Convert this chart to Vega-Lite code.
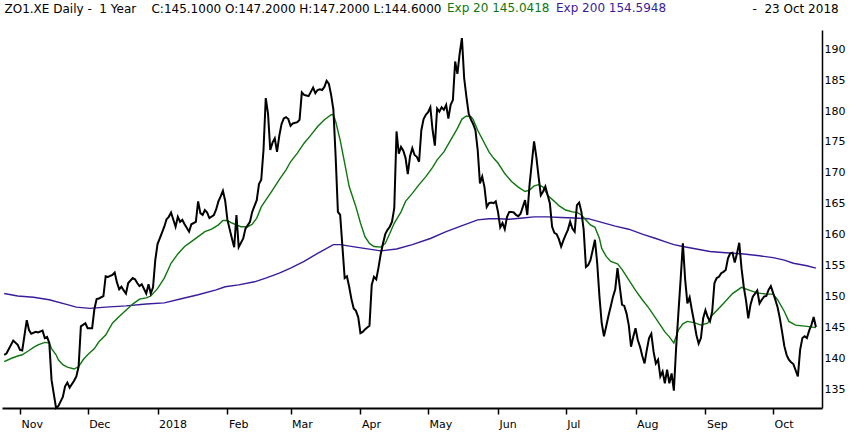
{
  "$schema": "https://vega.github.io/schema/vega-lite/v6.json",
  "width": 820,
  "height": 378,
  "autosize": {"type": "none"},
  "padding": {"left": 2, "top": 30, "right": 28, "bottom": 27},
  "background": "white",
  "config": {"view": {"stroke": null}, "font": "DejaVu Sans"},
  "datasets": {
    "price": [
      {"d":"2017-10-25","v":140.6},{"d":"2017-10-26","v":140.8},{"d":"2017-10-29","v":142.9},{"d":"2017-10-31","v":142.2},
      {"d":"2017-11-01","v":141.4},{"d":"2017-11-02","v":141.3},{"d":"2017-11-04","v":146.2},{"d":"2017-11-05","v":144.6},
      {"d":"2017-11-06","v":144.0},{"d":"2017-11-08","v":144.3},{"d":"2017-11-09","v":144.2},{"d":"2017-11-11","v":144.5},
      {"d":"2017-11-12","v":143.3},{"d":"2017-11-13","v":143.5},{"d":"2017-11-14","v":142.5},{"d":"2017-11-15","v":136.5},
      {"d":"2017-11-17","v":132.0},{"d":"2017-11-18","v":132.3},{"d":"2017-11-20","v":133.8},{"d":"2017-11-21","v":135.5},
      {"d":"2017-11-22","v":136.1},{"d":"2017-11-23","v":135.3},{"d":"2017-11-25","v":136.4},{"d":"2017-11-26","v":137.1},
      {"d":"2017-11-27","v":138.7},{"d":"2017-11-28","v":145.2},{"d":"2017-11-30","v":145.7},{"d":"2017-12-01","v":144.9},
      {"d":"2017-12-03","v":144.9},{"d":"2017-12-04","v":148.0},{"d":"2017-12-05","v":149.6},{"d":"2017-12-06","v":149.7},
      {"d":"2017-12-08","v":150.1},{"d":"2017-12-09","v":153.3},{"d":"2017-12-10","v":153.2},{"d":"2017-12-12","v":153.5},
      {"d":"2017-12-13","v":153.9},{"d":"2017-12-14","v":152.3},{"d":"2017-12-15","v":151.2},{"d":"2017-12-16","v":151.6},
      {"d":"2017-12-17","v":151.0},{"d":"2017-12-18","v":150.5},{"d":"2017-12-19","v":152.2},{"d":"2017-12-21","v":153.0},
      {"d":"2017-12-22","v":152.8},{"d":"2017-12-23","v":152.2},{"d":"2017-12-24","v":151.7},{"d":"2017-12-25","v":152.0},
      {"d":"2017-12-27","v":150.5},{"d":"2017-12-28","v":152.0},{"d":"2017-12-29","v":150.5},{"d":"2017-12-30","v":151.5},
      {"d":"2017-12-31","v":155.9},{"d":"2018-01-01","v":158.5},{"d":"2018-01-02","v":159.4},{"d":"2018-01-04","v":161.3},
      {"d":"2018-01-05","v":162.5},{"d":"2018-01-06","v":162.9},{"d":"2018-01-07","v":163.6},{"d":"2018-01-09","v":161.3},
      {"d":"2018-01-10","v":162.9},{"d":"2018-01-11","v":162.1},{"d":"2018-01-12","v":162.4},{"d":"2018-01-13","v":161.7},
      {"d":"2018-01-15","v":160.5},{"d":"2018-01-16","v":161.7},{"d":"2018-01-18","v":162.1},{"d":"2018-01-19","v":165.4},
      {"d":"2018-01-20","v":163.5},{"d":"2018-01-21","v":163.2},{"d":"2018-01-22","v":164.0},{"d":"2018-01-23","v":163.6},
      {"d":"2018-01-24","v":162.7},{"d":"2018-01-26","v":163.2},{"d":"2018-01-27","v":164.1},{"d":"2018-01-28","v":165.4},
      {"d":"2018-01-29","v":166.2},{"d":"2018-01-30","v":167.1},{"d":"2018-01-31","v":165.5},{"d":"2018-02-01","v":162.4},
      {"d":"2018-02-03","v":159.4},{"d":"2018-02-04","v":158.0},{"d":"2018-02-05","v":163.2},{"d":"2018-02-06","v":158.0},
      {"d":"2018-02-08","v":159.4},{"d":"2018-02-09","v":161.0},{"d":"2018-02-11","v":162.1},{"d":"2018-02-12","v":163.7},
      {"d":"2018-02-14","v":165.6},{"d":"2018-02-15","v":168.2},{"d":"2018-02-16","v":168.9},{"d":"2018-02-17","v":173.7},
      {"d":"2018-02-18","v":182.1},{"d":"2018-02-19","v":179.6},{"d":"2018-02-20","v":173.7},{"d":"2018-02-21","v":174.9},
      {"d":"2018-02-22","v":175.6},{"d":"2018-02-23","v":173.4},{"d":"2018-02-24","v":176.0},{"d":"2018-02-25","v":177.9},
      {"d":"2018-02-26","v":178.8},{"d":"2018-02-27","v":179.0},{"d":"2018-02-28","v":178.7},{"d":"2018-03-01","v":177.6},
      {"d":"2018-03-02","v":178.0},{"d":"2018-03-04","v":178.2},{"d":"2018-03-05","v":178.6},{"d":"2018-03-06","v":183.0},
      {"d":"2018-03-07","v":182.6},{"d":"2018-03-08","v":182.5},{"d":"2018-03-09","v":182.4},{"d":"2018-03-10","v":183.1},
      {"d":"2018-03-11","v":183.8},{"d":"2018-03-12","v":182.9},{"d":"2018-03-13","v":183.4},{"d":"2018-03-14","v":183.5},
      {"d":"2018-03-15","v":183.4},{"d":"2018-03-16","v":183.9},{"d":"2018-03-17","v":184.9},{"d":"2018-03-18","v":184.4},
      {"d":"2018-03-19","v":182.6},{"d":"2018-03-20","v":180.2},{"d":"2018-03-21","v":172.6},{"d":"2018-03-22","v":163.7},
      {"d":"2018-03-23","v":163.2},{"d":"2018-03-24","v":158.1},{"d":"2018-03-25","v":153.0},{"d":"2018-03-26","v":153.3},
      {"d":"2018-03-27","v":151.6},{"d":"2018-03-28","v":149.6},{"d":"2018-03-29","v":148.1},{"d":"2018-03-30","v":147.7},
      {"d":"2018-03-31","v":146.7},{"d":"2018-04-01","v":144.1},{"d":"2018-04-02","v":144.3},{"d":"2018-04-03","v":144.7},
      {"d":"2018-04-04","v":145.0},{"d":"2018-04-05","v":145.3},{"d":"2018-04-06","v":151.9},{"d":"2018-04-07","v":153.2},
      {"d":"2018-04-08","v":152.8},{"d":"2018-04-09","v":154.7},{"d":"2018-04-10","v":156.9},{"d":"2018-04-11","v":158.6},
      {"d":"2018-04-12","v":160.1},{"d":"2018-04-13","v":160.8},{"d":"2018-04-14","v":161.3},{"d":"2018-04-15","v":162.1},
      {"d":"2018-04-16","v":164.3},{"d":"2018-04-17","v":176.7},{"d":"2018-04-18","v":173.1},{"d":"2018-04-19","v":174.2},
      {"d":"2018-04-20","v":173.6},{"d":"2018-04-21","v":172.4},{"d":"2018-04-22","v":169.8},{"d":"2018-04-23","v":172.7},
      {"d":"2018-04-24","v":174.0},{"d":"2018-04-25","v":172.9},{"d":"2018-04-26","v":172.6},{"d":"2018-04-27","v":171.8},
      {"d":"2018-04-28","v":176.9},{"d":"2018-04-29","v":178.7},{"d":"2018-04-30","v":179.4},{"d":"2018-05-01","v":179.8},
      {"d":"2018-05-02","v":180.6},{"d":"2018-05-03","v":176.9},{"d":"2018-05-04","v":174.4},{"d":"2018-05-05","v":180.4},
      {"d":"2018-05-06","v":179.9},{"d":"2018-05-07","v":180.6},{"d":"2018-05-08","v":180.2},{"d":"2018-05-09","v":181.0},
      {"d":"2018-05-10","v":178.8},{"d":"2018-05-11","v":181.0},{"d":"2018-05-12","v":181.8},{"d":"2018-05-13","v":188.0},
      {"d":"2018-05-14","v":186.0},{"d":"2018-05-15","v":189.3},{"d":"2018-05-16","v":191.8},{"d":"2018-05-17","v":185.3},
      {"d":"2018-05-18","v":182.3},{"d":"2018-05-19","v":179.6},{"d":"2018-05-20","v":178.6},{"d":"2018-05-21","v":177.9},
      {"d":"2018-05-22","v":176.9},{"d":"2018-05-23","v":173.7},{"d":"2018-05-24","v":168.3},{"d":"2018-05-25","v":169.4},
      {"d":"2018-05-26","v":167.7},{"d":"2018-05-27","v":164.5},{"d":"2018-05-28","v":165.1},{"d":"2018-05-29","v":165.2},
      {"d":"2018-05-30","v":165.1},{"d":"2018-05-31","v":165.4},{"d":"2018-06-01","v":163.7},{"d":"2018-06-02","v":161.2},
      {"d":"2018-06-03","v":161.9},{"d":"2018-06-04","v":160.9},{"d":"2018-06-05","v":162.9},{"d":"2018-06-06","v":163.7},
      {"d":"2018-06-07","v":163.7},{"d":"2018-06-08","v":163.6},{"d":"2018-06-09","v":163.2},{"d":"2018-06-10","v":163.0},
      {"d":"2018-06-11","v":163.4},{"d":"2018-06-13","v":165.6},{"d":"2018-06-14","v":163.2},{"d":"2018-06-15","v":168.1},
      {"d":"2018-06-16","v":171.6},{"d":"2018-06-17","v":175.1},{"d":"2018-06-18","v":172.6},{"d":"2018-06-19","v":169.4},
      {"d":"2018-06-20","v":166.4},{"d":"2018-06-21","v":167.0},{"d":"2018-06-22","v":167.8},{"d":"2018-06-24","v":165.1},
      {"d":"2018-06-25","v":161.3},{"d":"2018-06-26","v":160.3},{"d":"2018-06-27","v":160.1},{"d":"2018-06-28","v":159.3},
      {"d":"2018-06-29","v":158.1},{"d":"2018-06-30","v":159.1},{"d":"2018-07-01","v":160.0},{"d":"2018-07-02","v":160.8},
      {"d":"2018-07-03","v":162.1},{"d":"2018-07-04","v":161.0},{"d":"2018-07-05","v":160.5},{"d":"2018-07-06","v":164.8},
      {"d":"2018-07-07","v":165.2},{"d":"2018-07-08","v":163.7},{"d":"2018-07-09","v":160.8},{"d":"2018-07-10","v":154.8},
      {"d":"2018-07-11","v":155.1},{"d":"2018-07-12","v":155.9},{"d":"2018-07-13","v":157.5},{"d":"2018-07-14","v":159.2},
      {"d":"2018-07-15","v":155.4},{"d":"2018-07-16","v":150.0},{"d":"2018-07-17","v":145.7},{"d":"2018-07-18","v":143.6},
      {"d":"2018-07-19","v":145.2},{"d":"2018-07-20","v":146.9},{"d":"2018-07-21","v":148.4},{"d":"2018-07-22","v":150.0},
      {"d":"2018-07-23","v":151.2},{"d":"2018-07-24","v":154.6},{"d":"2018-07-25","v":151.6},{"d":"2018-07-26","v":148.7},
      {"d":"2018-07-27","v":148.5},{"d":"2018-07-28","v":147.3},{"d":"2018-07-29","v":145.4},{"d":"2018-07-30","v":141.9},
      {"d":"2018-07-31","v":143.5},{"d":"2018-08-01","v":144.9},{"d":"2018-08-02","v":143.0},{"d":"2018-08-03","v":141.9},
      {"d":"2018-08-04","v":140.4},{"d":"2018-08-05","v":139.2},{"d":"2018-08-06","v":141.4},{"d":"2018-08-07","v":143.3},
      {"d":"2018-08-08","v":144.0},{"d":"2018-08-09","v":141.1},{"d":"2018-08-10","v":139.2},{"d":"2018-08-11","v":139.8},
      {"d":"2018-08-12","v":137.1},{"d":"2018-08-13","v":137.9},{"d":"2018-08-14","v":136.0},{"d":"2018-08-15","v":138.2},
      {"d":"2018-08-16","v":136.0},{"d":"2018-08-17","v":137.6},{"d":"2018-08-18","v":134.8},{"d":"2018-08-19","v":141.7},
      {"d":"2018-08-20","v":147.3},{"d":"2018-08-21","v":152.8},{"d":"2018-08-22","v":158.6},{"d":"2018-08-23","v":152.8},
      {"d":"2018-08-24","v":148.9},{"d":"2018-08-25","v":149.9},{"d":"2018-08-26","v":147.8},{"d":"2018-08-27","v":145.9},
      {"d":"2018-08-28","v":143.8},{"d":"2018-08-29","v":142.4},{"d":"2018-08-30","v":143.3},{"d":"2018-08-31","v":146.5},
      {"d":"2018-09-01","v":147.8},{"d":"2018-09-02","v":146.7},{"d":"2018-09-03","v":146.0},{"d":"2018-09-04","v":147.6},
      {"d":"2018-09-05","v":152.2},{"d":"2018-09-06","v":153.0},{"d":"2018-09-07","v":153.2},{"d":"2018-09-08","v":153.8},
      {"d":"2018-09-09","v":154.0},{"d":"2018-09-10","v":154.3},{"d":"2018-09-11","v":156.2},{"d":"2018-09-12","v":157.0},
      {"d":"2018-09-13","v":157.1},{"d":"2018-09-14","v":155.5},{"d":"2018-09-15","v":157.0},{"d":"2018-09-16","v":158.7},
      {"d":"2018-09-17","v":154.6},{"d":"2018-09-18","v":151.6},{"d":"2018-09-19","v":149.4},{"d":"2018-09-20","v":146.5},
      {"d":"2018-09-21","v":148.7},{"d":"2018-09-22","v":150.0},{"d":"2018-09-23","v":150.5},{"d":"2018-09-24","v":151.0},
      {"d":"2018-09-25","v":148.9},{"d":"2018-09-26","v":149.5},{"d":"2018-09-27","v":150.0},{"d":"2018-09-28","v":150.1},
      {"d":"2018-09-29","v":151.1},{"d":"2018-09-30","v":151.7},{"d":"2018-10-01","v":150.6},{"d":"2018-10-02","v":149.5},
      {"d":"2018-10-03","v":148.3},{"d":"2018-10-04","v":146.5},{"d":"2018-10-05","v":144.3},{"d":"2018-10-06","v":142.0},
      {"d":"2018-10-07","v":140.6},{"d":"2018-10-08","v":139.8},{"d":"2018-10-09","v":139.4},{"d":"2018-10-10","v":139.1},
      {"d":"2018-10-11","v":138.1},{"d":"2018-10-12","v":137.1},{"d":"2018-10-13","v":141.4},{"d":"2018-10-14","v":143.3},
      {"d":"2018-10-15","v":143.6},{"d":"2018-10-16","v":143.3},{"d":"2018-10-17","v":144.5},{"d":"2018-10-18","v":145.4},
      {"d":"2018-10-19","v":146.7},{"d":"2018-10-20","v":145.1}
    ],
    "ema20": [
      {"d":"2017-10-25","v":139.5},{"d":"2017-10-28","v":140.0},{"d":"2017-10-31","v":140.4},{"d":"2017-11-02","v":140.6},
      {"d":"2017-11-05","v":141.3},{"d":"2017-11-07","v":141.8},{"d":"2017-11-09","v":142.2},{"d":"2017-11-12","v":142.6},
      {"d":"2017-11-14","v":142.5},{"d":"2017-11-15","v":141.6},{"d":"2017-11-17","v":140.6},{"d":"2017-11-18","v":139.8},
      {"d":"2017-11-20","v":139.0},{"d":"2017-11-22","v":138.6},{"d":"2017-11-25","v":138.3},{"d":"2017-11-27","v":138.7},
      {"d":"2017-11-29","v":139.8},{"d":"2017-12-01","v":140.6},{"d":"2017-12-04","v":141.6},{"d":"2017-12-06","v":142.7},
      {"d":"2017-12-09","v":143.8},{"d":"2017-12-12","v":145.7},{"d":"2017-12-15","v":146.8},{"d":"2017-12-18","v":147.8},
      {"d":"2017-12-21","v":148.8},{"d":"2017-12-24","v":149.6},{"d":"2017-12-27","v":149.8},{"d":"2017-12-29","v":150.1},
      {"d":"2018-01-01","v":151.3},{"d":"2018-01-04","v":153.0},{"d":"2018-01-06","v":154.6},{"d":"2018-01-07","v":155.4},
      {"d":"2018-01-10","v":156.9},{"d":"2018-01-13","v":158.1},{"d":"2018-01-16","v":158.9},{"d":"2018-01-19","v":159.7},
      {"d":"2018-01-22","v":160.5},{"d":"2018-01-25","v":160.9},{"d":"2018-01-28","v":161.6},{"d":"2018-01-30","v":162.3},
      {"d":"2018-02-01","v":162.3},{"d":"2018-02-03","v":161.9},{"d":"2018-02-05","v":161.6},{"d":"2018-02-07","v":161.3},
      {"d":"2018-02-10","v":161.3},{"d":"2018-02-12","v":161.7},{"d":"2018-02-14","v":162.7},{"d":"2018-02-16","v":164.5},
      {"d":"2018-02-18","v":165.6},{"d":"2018-02-21","v":167.2},{"d":"2018-02-24","v":168.9},{"d":"2018-02-27","v":170.5},
      {"d":"2018-03-01","v":171.8},{"d":"2018-03-04","v":173.2},{"d":"2018-03-07","v":174.8},{"d":"2018-03-10","v":176.1},
      {"d":"2018-03-13","v":177.5},{"d":"2018-03-16","v":178.6},{"d":"2018-03-19","v":179.4},{"d":"2018-03-20","v":179.4},
      {"d":"2018-03-21","v":178.3},{"d":"2018-03-23","v":175.3},{"d":"2018-03-25","v":171.6},{"d":"2018-03-27","v":167.8},
      {"d":"2018-03-30","v":164.5},{"d":"2018-04-01","v":161.9},{"d":"2018-04-03","v":159.7},{"d":"2018-04-05","v":158.6},
      {"d":"2018-04-07","v":158.1},{"d":"2018-04-10","v":158.0},{"d":"2018-04-12","v":158.6},{"d":"2018-04-14","v":160.2},
      {"d":"2018-04-16","v":161.9},{"d":"2018-04-19","v":163.7},{"d":"2018-04-21","v":165.4},{"d":"2018-04-24","v":166.7},
      {"d":"2018-04-27","v":168.1},{"d":"2018-04-30","v":169.4},{"d":"2018-05-03","v":170.9},{"d":"2018-05-05","v":172.1},
      {"d":"2018-05-08","v":173.4},{"d":"2018-05-11","v":175.3},{"d":"2018-05-14","v":177.2},{"d":"2018-05-16","v":178.7},
      {"d":"2018-05-18","v":179.2},{"d":"2018-05-20","v":179.1},{"d":"2018-05-21","v":178.6},{"d":"2018-05-23","v":176.9},
      {"d":"2018-05-26","v":174.8},{"d":"2018-05-28","v":173.4},{"d":"2018-05-30","v":172.4},{"d":"2018-06-01","v":171.6},
      {"d":"2018-06-04","v":169.9},{"d":"2018-06-07","v":168.6},{"d":"2018-06-10","v":167.7},{"d":"2018-06-13","v":167.0},
      {"d":"2018-06-15","v":167.2},{"d":"2018-06-17","v":167.9},{"d":"2018-06-19","v":168.1},{"d":"2018-06-21","v":167.7},
      {"d":"2018-06-23","v":166.4},{"d":"2018-06-26","v":165.4},{"d":"2018-06-28","v":164.7},{"d":"2018-07-01","v":164.0},
      {"d":"2018-07-04","v":163.7},{"d":"2018-07-06","v":163.6},{"d":"2018-07-08","v":163.2},{"d":"2018-07-10","v":162.4},
      {"d":"2018-07-12","v":161.6},{"d":"2018-07-14","v":161.2},{"d":"2018-07-16","v":159.4},{"d":"2018-07-17","v":157.8},
      {"d":"2018-07-19","v":156.5},{"d":"2018-07-21","v":155.7},{"d":"2018-07-24","v":155.3},{"d":"2018-07-26","v":154.4},
      {"d":"2018-07-29","v":152.7},{"d":"2018-08-01","v":151.0},{"d":"2018-08-04","v":149.5},{"d":"2018-08-07","v":148.1},
      {"d":"2018-08-10","v":146.5},{"d":"2018-08-12","v":145.4},{"d":"2018-08-14","v":144.3},{"d":"2018-08-16","v":143.5},
      {"d":"2018-08-18","v":142.5},{"d":"2018-08-20","v":144.6},{"d":"2018-08-22","v":145.6},{"d":"2018-08-24","v":146.0},
      {"d":"2018-08-27","v":145.8},{"d":"2018-08-30","v":145.4},{"d":"2018-09-02","v":145.7},{"d":"2018-09-04","v":147.0},
      {"d":"2018-09-09","v":148.9},{"d":"2018-09-13","v":150.5},{"d":"2018-09-17","v":151.5},{"d":"2018-09-20","v":151.1},
      {"d":"2018-09-24","v":150.6},{"d":"2018-09-28","v":150.4},{"d":"2018-10-01","v":150.4},{"d":"2018-10-03","v":149.5},
      {"d":"2018-10-06","v":147.6},{"d":"2018-10-08","v":146.0},{"d":"2018-10-11","v":145.4},{"d":"2018-10-16","v":145.2},
      {"d":"2018-10-20","v":145.0}
    ],
    "ema200": [
      {"d":"2017-10-25","v":150.5},{"d":"2017-10-31","v":150.1},{"d":"2017-11-07","v":149.9},{"d":"2017-11-14","v":149.5},
      {"d":"2017-11-22","v":148.7},{"d":"2017-11-26","v":148.3},{"d":"2017-12-02","v":148.1},{"d":"2017-12-09","v":148.3},
      {"d":"2017-12-18","v":148.5},{"d":"2017-12-27","v":148.8},{"d":"2018-01-04","v":149.0},{"d":"2018-01-12","v":149.7},
      {"d":"2018-01-19","v":150.3},{"d":"2018-01-27","v":151.1},{"d":"2018-01-31","v":151.6},{"d":"2018-02-06","v":151.9},
      {"d":"2018-02-13","v":152.4},{"d":"2018-02-18","v":153.0},{"d":"2018-02-24","v":153.8},{"d":"2018-03-01","v":154.6},
      {"d":"2018-03-07","v":155.7},{"d":"2018-03-13","v":157.0},{"d":"2018-03-20","v":158.4},{"d":"2018-03-23","v":158.4},
      {"d":"2018-03-30","v":158.0},{"d":"2018-04-10","v":157.4},{"d":"2018-04-17","v":157.7},{"d":"2018-04-24","v":158.4},
      {"d":"2018-05-02","v":159.4},{"d":"2018-05-09","v":160.5},{"d":"2018-05-17","v":161.6},{"d":"2018-05-23","v":162.4},
      {"d":"2018-05-28","v":162.6},{"d":"2018-06-01","v":162.6},{"d":"2018-06-06","v":162.5},{"d":"2018-06-12","v":162.7},
      {"d":"2018-06-17","v":162.9},{"d":"2018-06-23","v":162.9},{"d":"2018-06-29","v":162.8},{"d":"2018-07-05","v":162.7},
      {"d":"2018-07-11","v":162.6},{"d":"2018-07-17","v":162.0},{"d":"2018-07-23","v":161.4},{"d":"2018-07-29","v":160.9},
      {"d":"2018-08-04","v":160.1},{"d":"2018-08-10","v":159.4},{"d":"2018-08-14","v":158.9},{"d":"2018-08-18","v":158.4},
      {"d":"2018-08-22","v":158.1},{"d":"2018-08-28","v":157.7},{"d":"2018-09-03","v":157.3},{"d":"2018-09-10","v":157.1},
      {"d":"2018-09-18","v":156.9},{"d":"2018-09-25","v":156.6},{"d":"2018-10-01","v":156.3},{"d":"2018-10-06","v":155.9},
      {"d":"2018-10-10","v":155.4},{"d":"2018-10-16","v":155.0},{"d":"2018-10-20","v":154.6}
    ]
  },
  "encoding": {
    "x": {
      "field": "d",
      "type": "temporal",
      "scale": {
        "type": "utc",
        "domain": [
          {"year": 2017, "month": 10, "date": 24, "hours": 0, "minutes": 30, "utc": true},
          {"year": 2018, "month": 10, "date": 22, "hours": 16, "minutes": 48, "utc": true}
        ]
      },
      "axis": {
        "orient": "bottom",
        "title": "ZO1.XE Daily -\u00a0 1 Year \u00a0\u00a0 C:145.1000 O:147.2000 H:147.2000 L:144.6000",
        "titleX": 2,
        "titleY": -396,
        "titleAlign": "left",
        "titleAnchor": null,
        "titleBaseline": "alphabetic",
        "titleFont": "DejaVu Sans",
        "titleFontSize": 12,
        "titleFontWeight": "normal",
        "titleColor": "black",
        "grid": false,
        "tickCount": {"interval": "month", "step": 1},
        "labelExpr": "utcmonth(datum.value) == 0 ? utcFormat(datum.value, '%Y') : utcFormat(datum.value, '%b')",
        "domainColor": "black",
        "domainWidth": 2,
        "tickColor": "black",
        "tickWidth": 1.5,
        "tickSize": 6,
        "labelFont": "DejaVu Sans",
        "labelFontSize": 11,
        "labelColor": "black",
        "labelAlign": "left",
        "labelBaseline": "top",
        "labelPadding": 4,
        "labelOffset": 1,
        "labelFlush": false,
        "labelOverlap": false
      }
    },
    "y": {
      "field": "v",
      "type": "quantitative",
      "scale": {"domain": [132, 193.1], "zero": false, "nice": false},
      "axis": {
        "orient": "right",
        "values": [135, 140, 145, 150, 155, 160, 165, 170, 175, 180, 185, 190],
        "grid": false,
        "ticks": false,
        "tickSize": 0,
        "domainColor": "black",
        "domainWidth": 1.5,
        "labelFont": "DejaVu Sans",
        "labelFontSize": 11,
        "labelColor": "black",
        "labelPadding": 2,
        "title": "-\u00a0 23 Oct 2018",
        "titleAngle": 0,
        "titleX": -70,
        "titleY": -18,
        "titleAlign": "left",
        "titleBaseline": "alphabetic",
        "titleFont": "DejaVu Sans",
        "titleFontSize": 12,
        "titleFontWeight": "normal",
        "titleColor": "black"
      }
    }
  },
  "layer": [
    {
      "data": {"values": [{"t": "ZOOPLUS AG"}]},
      "mark": {"type": "text", "font": "Liberation Sans", "fontSize": 74, "color": "#f1f1f1", "align": "center", "baseline": "alphabetic"},
      "encoding": {
        "x": {"datum": {"year": 2018, "month": 4, "date": 27, "utc": true}, "type": "temporal"},
        "y": {"datum": 138.1, "type": "quantitative"},
        "text": {"field": "t"}
      }
    },
    {
      "data": {"name": "ema200"},
      "mark": {"type": "line", "strokeWidth": 1.4},
      "encoding": {"color": {"datum": "Exp 200"}}
    },
    {
      "data": {"name": "ema20"},
      "mark": {"type": "line", "strokeWidth": 1.4},
      "encoding": {
        "color": {
          "datum": "Exp 20",
          "scale": {"domain": ["Exp 20", "Exp 200"], "range": ["#0e760e", "#3a1c9a"]},
          "legend": {
            "orient": "none",
            "legendX": 433,
            "legendY": -28,
            "direction": "horizontal",
            "gridAlign": "none",
            "padding": 0,
            "title": null,
            "labelFont": "DejaVu Sans",
            "labelFontSize": 12,
            "labelLimit": 300,
            "labelExpr": "datum.value == 'Exp 20' ? 'Exp 20 145.0418' : 'Exp 200 154.5948'",
            "labelColor": {"expr": "datum.value == 'Exp 20' ? '#0e760e' : '#3a1c9a'"},
            "labelOffset": 0,
            "symbolSize": 0.01,
            "symbolStrokeWidth": 0,
            "symbolOpacity": 0,
            "columnPadding": -6
          }
        }
      }
    },
    {
      "data": {"name": "price"},
      "mark": {"type": "line", "color": "black", "strokeWidth": 2}
    }
  ]
}
